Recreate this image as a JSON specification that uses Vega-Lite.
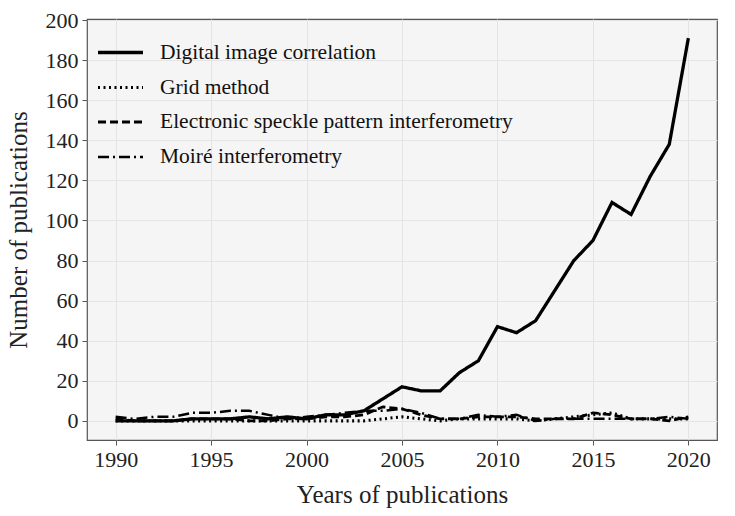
{
  "$schema": "https://vega.github.io/schema/vega-lite/v6.json",
  "width": 630,
  "height": 421,
  "autosize": "none",
  "padding": {"left": 87, "top": 19, "right": 18, "bottom": 76},
  "background": "white",
  "config": {
    "view": {"fill": "#f5f5f5", "stroke": "#555555", "strokeWidth": 1.2},
    "font": "Liberation Serif",
    "axis": {
      "labelFont": "Liberation Serif",
      "titleFont": "Liberation Serif",
      "labelFontSize": 22,
      "titleFontSize": 25,
      "titleFontWeight": "normal",
      "labelColor": "#222222",
      "titleColor": "#222222",
      "gridColor": "#e4e4e4",
      "gridWidth": 1,
      "tickColor": "#555555",
      "tickSize": 5,
      "domain": false
    }
  },
  "data": {
    "values": [
      {"year": 1990, "DIC": 0, "Grid": 0, "ESPI": 1, "Moire": 2},
      {"year": 1991, "DIC": 0, "Grid": 0, "ESPI": 0, "Moire": 1},
      {"year": 1992, "DIC": 0, "Grid": 0, "ESPI": 0, "Moire": 2},
      {"year": 1993, "DIC": 0, "Grid": 0, "ESPI": 0, "Moire": 2},
      {"year": 1994, "DIC": 1, "Grid": 0, "ESPI": 1, "Moire": 4},
      {"year": 1995, "DIC": 1, "Grid": 0, "ESPI": 1, "Moire": 4},
      {"year": 1996, "DIC": 1, "Grid": 0, "ESPI": 1, "Moire": 5},
      {"year": 1997, "DIC": 2, "Grid": 0, "ESPI": 0, "Moire": 5},
      {"year": 1998, "DIC": 1, "Grid": 0, "ESPI": 0, "Moire": 3},
      {"year": 1999, "DIC": 2, "Grid": 0, "ESPI": 1, "Moire": 1},
      {"year": 2000, "DIC": 1, "Grid": 0, "ESPI": 1, "Moire": 2},
      {"year": 2001, "DIC": 3, "Grid": 0, "ESPI": 2, "Moire": 3},
      {"year": 2002, "DIC": 3, "Grid": 0, "ESPI": 2, "Moire": 4},
      {"year": 2003, "DIC": 5, "Grid": 0, "ESPI": 3, "Moire": 5},
      {"year": 2004, "DIC": 11, "Grid": 1, "ESPI": 7, "Moire": 5},
      {"year": 2005, "DIC": 17, "Grid": 2, "ESPI": 6, "Moire": 6},
      {"year": 2006, "DIC": 15, "Grid": 1, "ESPI": 3, "Moire": 4},
      {"year": 2007, "DIC": 15, "Grid": 0, "ESPI": 1, "Moire": 1},
      {"year": 2008, "DIC": 24, "Grid": 1, "ESPI": 1, "Moire": 1},
      {"year": 2009, "DIC": 30, "Grid": 1, "ESPI": 2, "Moire": 3},
      {"year": 2010, "DIC": 47, "Grid": 1, "ESPI": 2, "Moire": 2},
      {"year": 2011, "DIC": 44, "Grid": 1, "ESPI": 2, "Moire": 3},
      {"year": 2012, "DIC": 50, "Grid": 0, "ESPI": 1, "Moire": 0},
      {"year": 2013, "DIC": 65, "Grid": 1, "ESPI": 1, "Moire": 1},
      {"year": 2014, "DIC": 80, "Grid": 2, "ESPI": 1, "Moire": 1},
      {"year": 2015, "DIC": 90, "Grid": 3, "ESPI": 4, "Moire": 1},
      {"year": 2016, "DIC": 109, "Grid": 4, "ESPI": 3, "Moire": 1},
      {"year": 2017, "DIC": 103, "Grid": 1, "ESPI": 1, "Moire": 1},
      {"year": 2018, "DIC": 122, "Grid": 1, "ESPI": 1, "Moire": 1},
      {"year": 2019, "DIC": 138, "Grid": 1, "ESPI": 0, "Moire": 2},
      {"year": 2020, "DIC": 191, "Grid": 1, "ESPI": 2, "Moire": 1}
    ]
  },
  "transform": [
    {"fold": ["DIC", "Grid", "ESPI", "Moire"], "as": ["key", "count"]},
    {"lookup": "key", "from": {"data": {"values": [
      {"key": "DIC", "method": "Digital image correlation"},
      {"key": "Grid", "method": "Grid method"},
      {"key": "ESPI", "method": "Electronic speckle pattern interferometry"},
      {"key": "Moire", "method": "Moiré interferometry"}
    ]}, "key": "key", "fields": ["method"]}}
  ],
  "mark": {"type": "line", "color": "black", "clip": true},
  "encoding": {
    "x": {
      "field": "year", "type": "quantitative",
      "scale": {"domain": [1988.5, 2021.5], "nice": false, "zero": false},
      "axis": {"values": [1990, 1995, 2000, 2005, 2010, 2015, 2020], "format": "d", "title": "Years of publications", "labelPadding": 4, "titlePadding": 12}
    },
    "y": {
      "field": "count", "type": "quantitative",
      "scale": {"domain": [-9.55, 200.55], "nice": false, "zero": false},
      "axis": {"values": [0, 20, 40, 60, 80, 100, 120, 140, 160, 180, 200], "title": "Number of publications", "labelPadding": 4, "titlePadding": 14}
    },
    "strokeDash": {
      "field": "method", "type": "nominal",
      "scale": {
        "domain": ["Digital image correlation", "Grid method", "Electronic speckle pattern interferometry", "Moiré interferometry"],
        "range": [[1, 0], [2, 3.5], [8, 4], [11, 4, 2, 4]]
      },
      "legend": {
        "title": null,
        "orient": "top-left",
        "offset": 5,
        "labelFont": "Liberation Serif",
        "labelFontSize": 21.5,
        "labelColor": "#111111",
        "labelLimit": 0,
        "labelOffset": 15,
        "symbolType": "stroke",
        "symbolSize": 2025,
        "symbolStrokeWidth": 2.8,
        "symbolStrokeColor": "black",
        "rowPadding": 0,
        "padding": 4
      }
    },
    "strokeWidth": {
      "field": "method", "type": "nominal",
      "scale": {
        "domain": ["Digital image correlation", "Grid method", "Electronic speckle pattern interferometry", "Moiré interferometry"],
        "range": [3.3, 2.5, 2.5, 2.5]
      },
      "legend": null
    }
  }
}
